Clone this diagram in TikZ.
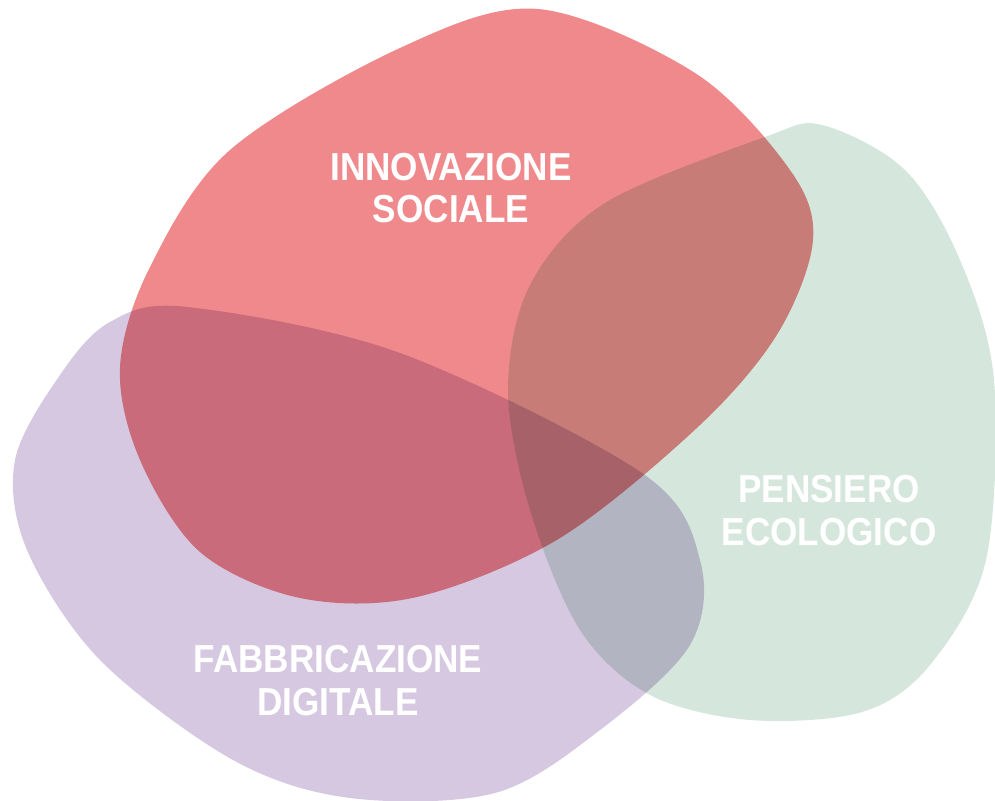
\documentclass[tikz,border=0pt]{standalone}
\usepackage{fontspec}
\usepackage{tikz}
\newfontfamily\labelfont{Liberation Sans}[FakeStretch=0.9]
\definecolor{blobred}{HTML}{F0898C}
\definecolor{blobviolet}{HTML}{D6C8E0}
\definecolor{blobgreen}{HTML}{D5E7DC}
\tikzset{
	blob/.style={smooth cycle, tension=0.55},
	label/.style={text=white, align=center, inner sep=0pt, anchor=base,
		font=\labelfont\bfseries\fontsize{11.1}{12.2}\selectfont}
}

\begin{document}
\begin{tikzpicture}[x=0.01cm, y=-0.01cm]
	\useasboundingbox (0,0) rectangle (995,801);

	\begin{scope}[blend group=multiply]
	% pensiero ecologico
	\fill[blobgreen] plot[blob] coordinates {(822,125) (905,170) (960,260) (994,380) (986,560) (930,665) (862,712) (750,720) (650,695) (580,630) (530,510) (508,390) (530,285) (605,203) (765,137)};
	% fabbricazione digitale
	\fill[blobviolet] plot[blob] coordinates {(187,307) (400,353) (642,473) (700,560) (690,645) (600,730) (495,793) (350,798) (233,760) (100,660) (27,550) (15,460) (60,375) (110,322)};
	% innovazione sociale
	\fill[blobred] plot[blob] coordinates {(538,9) (695,73) (790,170) (813,240) (778,333) (700,425) (560,538) (417,597) (300,598) (200,552) (140,460) (120,367) (150,267) (230,150) (400,48)};
	\end{scope}

	\node (soc) [label] at (451,223) {INNOVAZIONE\\SOCIALE};
	\node (eco) [label] at (829,545) {PENSIERO\\ECOLOGICO};
	\node (fab) [label] at (338,715) {FABBRICAZIONE\\DIGITALE};
\end{tikzpicture}
\end{document}
